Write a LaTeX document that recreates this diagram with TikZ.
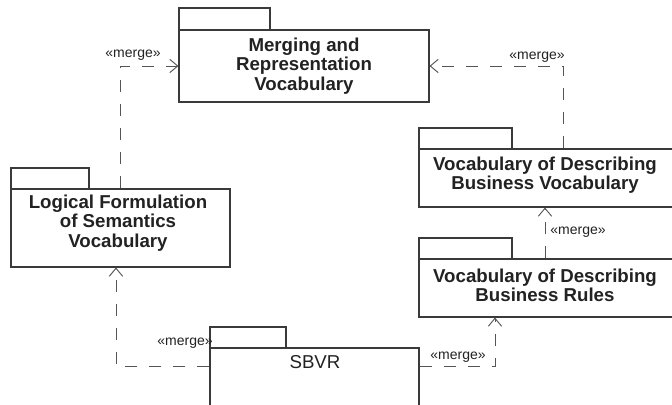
\documentclass[tikz,border=0pt]{standalone}
\usepackage{fontspec}
\setmainfont{Liberation Sans}
\usetikzlibrary{arrows.meta,fit}

\definecolor{edge}{HTML}{3A3A3A}
\definecolor{dash}{HTML}{555555}
\definecolor{ink}{HTML}{222222}

\tikzset{
  body/.style={draw=edge, line width=0.8pt, inner sep=0pt, fill=white},
  tab/.style={draw=edge, line width=0.8pt, inner sep=0pt},
  pkgname/.style={font=\fontsize{14}{14.5}\selectfont\bfseries, text=ink,
                  align=center, inner sep=0pt},
  mergeflow/.style={draw=dash, line width=0.7pt, dash pattern=on 9pt off 9pt,
                    -{Straight Barb[length=6pt,width=10pt]}},
  stereo/.style={font=\fontsize{10.5}{12}\selectfont, text=ink, inner sep=0pt}
}

\begin{document}
\begin{tikzpicture}[x=0.75pt,y=-0.75pt]
  \useasboundingbox (0,0) rectangle (672,404);
  \clip (0,0) rectangle (672,404);

  % package tabs
  \node[tab, fit={(179,8) (270,30)}]   (merge-tab) {};
  \node[tab, fit={(11,168) (89,189)}]  (logic-tab) {};
  \node[tab, fit={(419,128) (512,149)}] (bv-tab) {};
  \node[tab, fit={(419,238) (512,259)}] (rules-tab) {};
  \node[tab, fit={(210,327) (286,348)}] (sbvr-tab) {};

  % package bodies
  \node[body, fit={(179,30) (429,102)}]  (merge) {};
  \node[body, fit={(11,189) (230,267)}]  (logic) {};
  \node[body, fit={(419,149) (676,207)}] (bv) {};
  \node[body, fit={(419,259) (676,317)}] (rules) {};
  \node[body, fit={(210,348) (419,420)}] (sbvr) {};

  % package names
  \node[pkgname] (merge-name) at (304,66) {Merging and\\Representation\\Vocabulary};
  \node[pkgname] (logic-name) at (118,223) {Logical Formulation\\of Semantics\\Vocabulary};
  \node[pkgname] (bv-name) at (545,175) {Vocabulary of Describing\\Business Vocabulary};
  \node[pkgname] (rules-name) at (545,285) {Vocabulary of Describing\\Business Rules};
  \node[pkgname, font=\fontsize{14}{14.5}\selectfont] (sbvr-name) at (315,362) {SBVR};

  % merge dependencies
  \draw[mergeflow] (logic.north) |- (merge.west);
  \draw[mergeflow] ([xshift=108.75pt]bv.north west) |- (merge.east);
  \draw[mergeflow] ([xshift=-1.9pt]rules.north) -- ([xshift=-1.9pt]bv.south);
  \draw[mergeflow] ([yshift=-14.25pt]sbvr.north east) -| ([xshift=-39.4pt]rules.south);
  \draw[mergeflow] ([yshift=-14.25pt]sbvr.north west) -| ([xshift=-3.4pt]logic.south);

  % stereotype labels
  \node[stereo] (s1) at (133,55) {«merge»};
  \node[stereo] (s2) at (537,57) {«merge»};
  \node[stereo] (s3) at (578,232) {«merge»};
  \node[stereo] (s4) at (458,357) {«merge»};
  \node[stereo] (s5) at (185,343) {«merge»};
\end{tikzpicture}
\end{document}
